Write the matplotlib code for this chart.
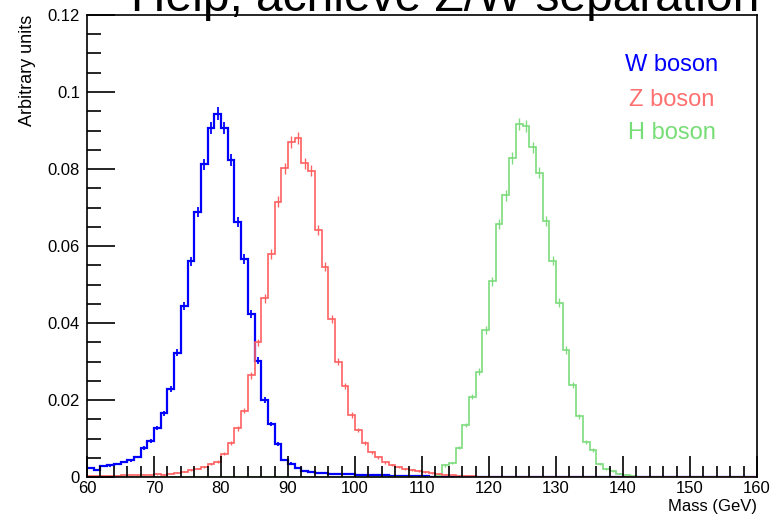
import numpy as np
import matplotlib
matplotlib.use('Agg')
from matplotlib import pyplot as plt
from matplotlib.ticker import MultipleLocator, FixedLocator

plt.rcParams['font.family'] = ['Liberation Sans', 'DejaVu Sans']

# bin edges: 1 GeV bins from 60 to 160
edges = np.arange(60, 161, 1)

w_boson = [0.0023, 0.0017, 0.0028, 0.0030, 0.0034, 0.0039, 0.0043, 0.0052, 0.0075, 0.0093,
           0.0127, 0.0166, 0.0228, 0.0323, 0.0444, 0.0560, 0.0688, 0.0812, 0.0907, 0.0944,
           0.0907, 0.0823, 0.0662, 0.0566, 0.0424, 0.0302, 0.0200, 0.0138, 0.0086, 0.0044,
           0.0035, 0.0023, 0.0016, 0.0014, 0.0011, 0.0010, 0.0009, 0.0008, 0.0007, 0.0007,
           0.0006, 0.0005, 0.0005, 0.0004, 0.0004, 0.0003, 0.0003, 0.0003, 0.0002, 0.0002,
           0.0002, 0.0001, 0.0001, 0.0001, 0.0001, 0.0001] + [0.0] * 44

z_boson = [0.0002, 0.0002, 0.0002, 0.0003, 0.0003, 0.0004, 0.0004, 0.0005, 0.0005, 0.0006,
           0.0007, 0.0006, 0.0009, 0.0011, 0.0014, 0.0018, 0.0022, 0.0026, 0.0034, 0.0040,
           0.0060, 0.0089, 0.0126, 0.0172, 0.0264, 0.0350, 0.0464, 0.0579, 0.0715, 0.0802,
           0.0871, 0.0880, 0.0815, 0.0796, 0.0642, 0.0546, 0.0410, 0.0300, 0.0237, 0.0161,
           0.0122, 0.0089, 0.0064, 0.0051, 0.0038, 0.0031, 0.0027, 0.0020, 0.0018, 0.0015,
           0.0013, 0.0010, 0.0008, 0.0006, 0.0004, 0.0003, 0.0002, 0.0002, 0.0001, 0.0001] + [0.0] * 40

h_boson = [0.0] * 52 + [0.0005, 0.0030, 0.0037, 0.0076, 0.0135, 0.0209, 0.0274, 0.0382,
                        0.0509, 0.0657, 0.0732, 0.0829, 0.0917, 0.0912, 0.0856, 0.0790,
                        0.0665, 0.0562, 0.0453, 0.0330, 0.0239, 0.0158, 0.0092, 0.0070,
                        0.0034, 0.0021, 0.0016, 0.0008, 0.0004, 0.0002, 0.0001] + [0.0] * 17

y_ticks = [0, 0.02, 0.04, 0.06, 0.08, 0.1, 0.12]
y_labels = ['0', '0.02', '0.04', '0.06', '0.08', '0.1', '0.12']
x_ticks = [60, 70, 80, 90, 100, 110, 120, 130, 140, 150, 160]

fig = plt.figure(figsize=(7.84, 5.18), dpi=100)
ax = fig.add_axes([87 / 784, 1 - 477 / 518, 670 / 784, 462 / 518])

centers = 0.5 * (edges[:-1] + edges[1:])

# W first, then H, then Z (Z zeros end up on top of the baseline at high mass)
series = [(w_boson, '#0000ff', 1.6), (h_boson, '#7ddc7d', 1.2), (z_boson, '#ff6060', 1.2)]
for vals, col, lw in series:
    vals = np.array(vals)
    ax.stairs(vals, edges, color=col, lw=lw, baseline=None)
    # poisson-like stat errors
    err = 0.0052 * np.sqrt(vals)
    m = vals > 0
    ax.errorbar(centers[m], vals[m], yerr=err[m], fmt='none', ecolor=col, elinewidth=lw * 0.8)

ax.set_xlim(60, 160)
ax.set_ylim(0, 0.12)

ax.xaxis.set_major_locator(FixedLocator(x_ticks))
ax.xaxis.set_minor_locator(MultipleLocator(2))
ax.yaxis.set_major_locator(FixedLocator(y_ticks))
ax.yaxis.set_minor_locator(MultipleLocator(0.005))
ax.set_yticklabels(y_labels)

ax.tick_params(axis='both', which='both', direction='in', top=False, right=False,
               labelsize=12, width=1.2, colors='black')
ax.tick_params(axis='y', which='major', length=20)
ax.tick_params(axis='y', which='minor', length=10)
ax.tick_params(axis='x', which='major', length=15)
ax.tick_params(axis='x', which='minor', length=8)
ax.tick_params(axis='x', pad=3)
ax.tick_params(axis='y', pad=5)
for s in ax.spines.values():
    s.set_linewidth(1.2)

ax.set_xlabel('Mass (GeV)', fontsize=12, loc='right', labelpad=2)
ax.set_ylabel('Arbitrary units', fontsize=13, loc='top')
ax.yaxis.set_label_coords(-0.076, 1.0)

# legend-like labels
ax.text(0.873, 0.892, 'W boson', color='#0000ff', fontsize=17, ha='center', va='center', transform=ax.transAxes)
ax.text(0.873, 0.816, 'Z boson', color='#ff7070', fontsize=17, ha='center', va='center', transform=ax.transAxes)
ax.text(0.873, 0.745, 'H boson', color='#77dd77', fontsize=17, ha='center', va='center', transform=ax.transAxes)

# title cut off at the top of the picture, as in the source slide
fig.text(445 / 784, 1 - 11 / 518, 'Help, achieve Z/W separation', fontsize=34.5,
         ha='center', va='baseline')

fig.savefig('out.png', dpi=100)
